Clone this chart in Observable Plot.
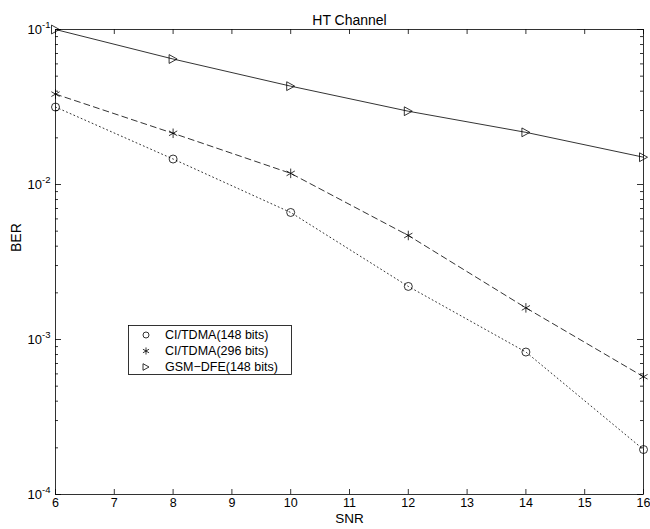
<!DOCTYPE html>
<html>
<head>
<meta charset="utf-8">
<script src="https://cdn.jsdelivr.net/npm/d3@7"></script>
<script src="https://cdn.jsdelivr.net/npm/@observablehq/plot@0.6"></script>
<style>
  html, body { margin: 0; padding: 0; background: white; }
  #wrap { position: relative; width: 650px; height: 529px; font-family: "Liberation Sans", Arial, Helvetica, sans-serif; }
  #legend { position: absolute; left: 128px; top: 325px; }
</style>
</head>
<body>
<div id="wrap"></div>
<script>
// ---- data ----
const snr = [6, 8, 10, 12, 14, 16];
const berCI148 = [0.0316, 0.0146, 0.0066, 0.0022, 0.00083, 0.000195];
const berCI296 = [0.0383, 0.0214, 0.0118, 0.00469, 0.0016, 0.000575];
const berGSM   = [0.100, 0.0645, 0.0431, 0.0297, 0.0217, 0.0150];
const seriesNames = ["CI/TDMA(148 bits)", "CI/TDMA(296 bits)", "GSM\u2212DFE(148 bits)"];
const xTicks = [6, 7, 8, 9, 10, 11, 12, 13, 14, 15, 16];
const yMajor = [1e-4, 1e-3, 1e-2, 1e-1];
const yLabels = ["10^-4", "10^-3", "10^-2", "10^-1"];
const titleText = "HT Channel";
const xLabel = "SNR";
const yLabel = "BER";

// ---- build ----
const W = 650, H = 529;
const mL = 55, mR = 7, mT = 29, mB = 35;
const plotW = W - mL - mR, plotH = H - mT - mB;

const rows = (vals) => snr.map((x, i) => ({x, y: vals[i]}));
const d148 = rows(berCI148), d296 = rows(berCI296), dGSM = rows(berGSM);

const yMinor = [];
for (let k = -4; k <= -2; k++) for (let m = 2; m <= 9; m++) yMinor.push(m * Math.pow(10, k));

const triRight = {
  draw(ctx, size) {
    const r = Math.sqrt(size / Math.PI);
    ctx.moveTo(r, 0);
    ctx.lineTo(-r, -r * 1.1);
    ctx.lineTo(-r, r * 1.1);
    ctx.closePath();
  }
};

const lineStyle = {x: "x", y: "y", stroke: "black", strokeWidth: 0.8};
const dotStyle = {x: "x", y: "y", fill: "none", stroke: "black", strokeWidth: 0.8};

const chart = Plot.plot({
  width: W, height: H,
  marginLeft: mL, marginRight: mR, marginTop: mT, marginBottom: mB,
  style: {fontFamily: "Liberation Sans, Arial, Helvetica, sans-serif", fontSize: "13px", background: "white", color: "black"},
  x: {domain: [6, 16], label: null},
  y: {type: "log", domain: [1e-4, 1e-1], label: null},
  marks: [
    // lines
    Plot.line(d148, {...lineStyle, strokeDasharray: "1,3"}),
    Plot.line(d296, {...lineStyle, strokeDasharray: "6,4"}),
    Plot.line(dGSM, {...lineStyle}),
    // markers
    Plot.dot(d148, {...dotStyle, symbol: "circle", r: 4}),
    Plot.dot(d296, {...dotStyle, symbol: "asterisk", r: 4.5}),
    Plot.dot(dGSM, {...dotStyle, symbol: triRight, r: 4}),
    // inward ticks: x bottom & top
    Plot.ruleX(xTicks, {stroke: "black", strokeWidth: 0.8, insetTop: plotH - 5}),
    Plot.ruleX(xTicks, {stroke: "black", strokeWidth: 0.8, insetBottom: plotH - 5}),
    // inward ticks: y left & right (major)
    Plot.ruleY(yMajor, {stroke: "black", strokeWidth: 0.8, insetRight: plotW - 6}),
    Plot.ruleY(yMajor, {stroke: "black", strokeWidth: 0.8, insetLeft: plotW - 6}),
    // minor
    Plot.ruleY(yMinor, {stroke: "black", strokeWidth: 0.8, insetRight: plotW - 3}),
    Plot.ruleY(yMinor, {stroke: "black", strokeWidth: 0.8, insetLeft: plotW - 3}),
    // axes labels
    Plot.axisX({ticks: xTicks, tickSize: 0, tickPadding: 4, tickFormat: d => String(d), label: null, fontSize: 12.5}),
    Plot.axisY({ticks: yMajor, tickSize: 0, tickPadding: 5, tickFormat: d => yLabels[yMajor.indexOf(d)] ?? "", label: null, fontSize: 13}),
    Plot.frame({stroke: "black", strokeWidth: 0.8}),
    Plot.text([titleText], {frameAnchor: "top", dy: -14.5, fontSize: 14}),
    Plot.text([xLabel], {frameAnchor: "bottom", dy: 28, fontSize: 13.5}),
    Plot.text([yLabel], {frameAnchor: "left", dx: -39, dy: -10, rotate: -90, fontSize: 14})
  ]
});

// superscript exponents on y tick labels
d3.select(chart).selectAll('g[aria-label="y-axis tick label"] text').each(function() {
  const t = d3.select(this);
  const txt = t.text();
  if (!txt.includes("^")) return;
  const [b, e] = txt.split("^");
  t.text(b);
  t.append("tspan").attr("dy", "-0.55em").attr("font-size", "9.5px").text(e);
});

const wrap = document.getElementById("wrap");
wrap.appendChild(chart);

// legend overlay
const lg = d3.select(wrap).append("svg").attr("id", "legend")
  .attr("width", 164).attr("height", 50)
  .style("font-family", "Liberation Sans, Arial, Helvetica, sans-serif").style("font-size", "12.5px");
lg.append("rect").attr("x", 0.5).attr("y", 0.5).attr("width", 163).attr("height", 49)
  .attr("fill", "white").attr("stroke", "black").attr("stroke-width", 0.8);
const symGen = [d3.symbol(d3.symbolCircle, Math.PI * 9), d3.symbol(d3.symbolAsterisk, Math.PI * 11), d3.symbol(triRight, Math.PI * 9)];
seriesNames.forEach((name, i) => {
  const cy = 10 + i * 16;
  lg.append("path").attr("transform", `translate(18,${cy})`).attr("d", symGen[i]())
    .attr("fill", "none").attr("stroke", "black").attr("stroke-width", 0.8);
  lg.append("text").attr("x", 37).attr("y", cy).attr("dy", "0.35em").text(name);
});
</script>
</body>
</html>
